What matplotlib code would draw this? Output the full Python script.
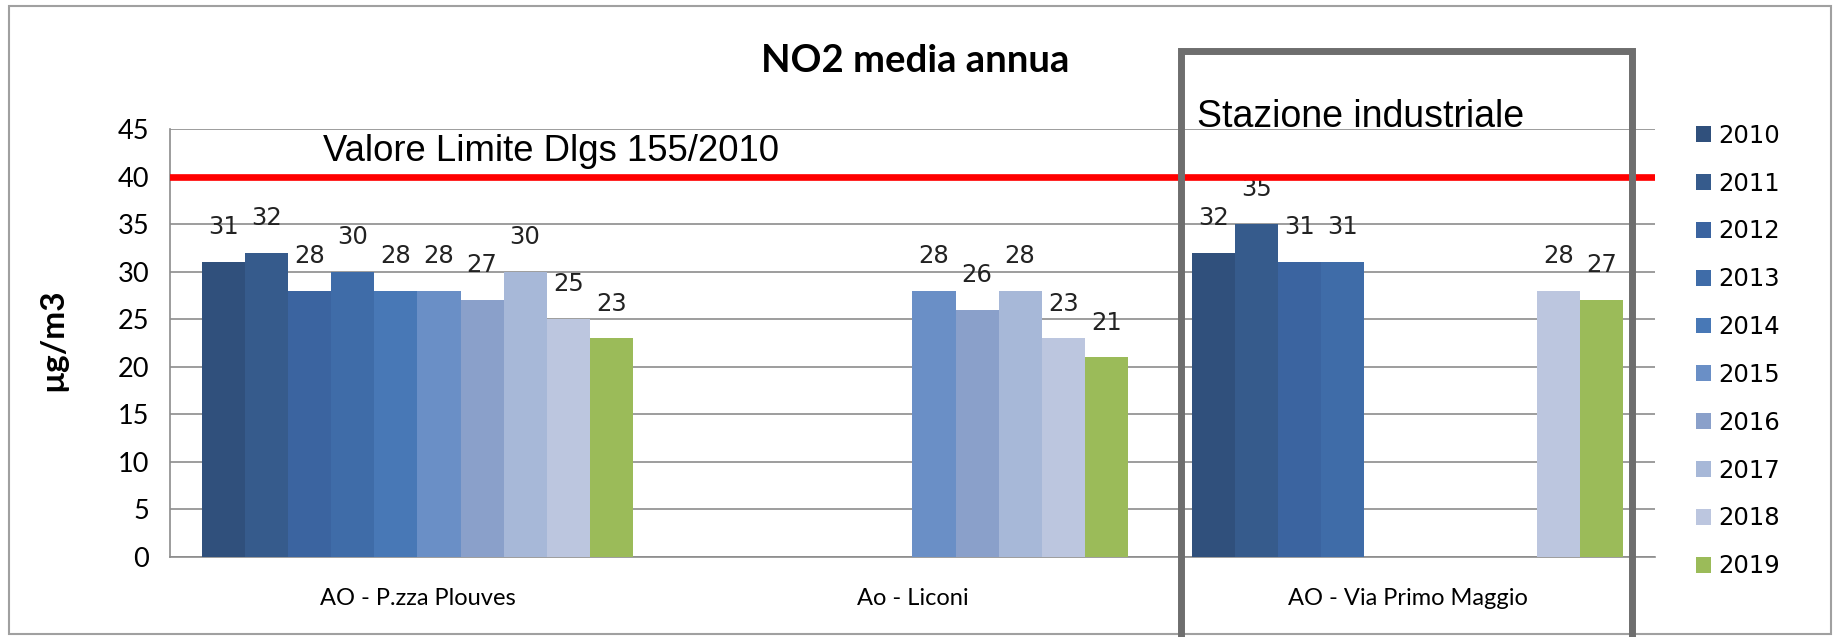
import numpy as np
import matplotlib
matplotlib.use("Agg")
import matplotlib.pyplot as plt
import matplotlib.patches as mpatches

# ── Data ──────────────────────────────────────────────────────────────────────
stations = ["AO - P.zza Plouves", "Ao - Liconi", "AO - Via Primo Maggio"]
years = ["2010", "2011", "2012", "2013", "2014", "2015", "2016", "2017", "2018", "2019"]
nan = np.nan
plouves = [31, 32, 28, 30, 28, 28, 27, 30, 25, 23]
liconi = [nan, nan, nan, nan, nan, 28, 26, 28, 23, 21]
primo_maggio = [32, 35, 31, 31, nan, nan, nan, nan, 28, 27]
limit_value = 40
y_ticks = [0, 5, 10, 15, 20, 25, 30, 35, 40, 45]

# ── Style ─────────────────────────────────────────────────────────────────────
COLORS = ["#30507c", "#365b8c", "#3b64a0", "#3f6ca8", "#4878b6",
          "#6a8fc6", "#8aa0ca", "#a7b8d8", "#bcc6df", "#9bbb59"]
GRID = "#8c8c8c"
BOX = "#6e6e6e"

W, H = 1840, 637
fig = plt.figure(figsize=(W / 100, H / 100), dpi=100, facecolor="white")
ax = fig.add_axes([170 / W, 1 - 557 / H, (1655 - 170) / W, (557 - 129) / H])

values = np.array([plouves, liconi, primo_maggio])  # stations x years
n_years = len(years)
x = np.arange(len(stations))
bw = 1 / 11.5

for i, yr in enumerate(years):
    xs = x + (i - (n_years - 1) / 2) * bw
    vals = values[:, i]
    ax.bar(xs, np.nan_to_num(vals), width=bw, color=COLORS[i], label=yr,
           linewidth=0, zorder=3)
    for xi, v in zip(xs, vals):
        if not np.isnan(v):
            ax.annotate(f"{v:.0f}", (xi, v), xytext=(0, 25),
                        textcoords="offset points", ha="center", va="center",
                        fontsize=17.5, color="#222222", zorder=4)

ax.axhline(limit_value, color="#ff0000", lw=4.8, zorder=5)

ax.set_xlim(-0.5, 2.5)
ax.set_ylim(0, 45)
ax.set_yticks(y_ticks)
ax.set_yticklabels([str(t) for t in y_ticks], fontsize=19.5, family="Lato")
ax.set_xticks(x)
ax.set_xticklabels(stations, fontsize=17, family="Lato")
ax.tick_params(axis="y", length=0, pad=15)
ax.tick_params(axis="x", length=0, pad=22)
ax.grid(axis="y", color=GRID, lw=1.2, zorder=0)
ax.set_axisbelow(True)
for s in ["top", "right"]:
    ax.spines[s].set_visible(False)
for s in ["left", "bottom"]:
    ax.spines[s].set_color(GRID)
    ax.spines[s].set_linewidth(1.2)

fig.text(53 / W, 1 - 340 / H, "µg/m3", rotation=90, ha="center", va="center",
         fontsize=24, fontweight="bold", family="Lato")
fig.text(915 / W, 1 - 61 / H, "NO2 media annua", ha="center", va="center",
         fontsize=27.5, fontweight="bold", family="Lato")
fig.text(323 / W, 1 - 161 / H, "Valore Limite Dlgs 155/2010", ha="left",
         va="baseline", fontsize=26.3, family="Liberation Sans")
fig.text(1197 / W, 1 - 127 / H, "Stazione industriale", ha="left",
         va="baseline", fontsize=27, family="Liberation Sans")

# legend
handles = [mpatches.Patch(facecolor=c, label=y) for c, y in zip(COLORS, years)]
fig.legend(handles=handles, loc="center left",
           bbox_to_anchor=(1696 / W, 1 - 351 / H), frameon=False,
           fontsize=17.5, handlelength=0.62, handleheight=0.62,
           handletextpad=0.28, labelspacing=0.98, borderpad=0, borderaxespad=0)

# outer border and industrial-station box
fig.add_artist(mpatches.Rectangle((9 / W, 3 / H), (1831 - 9) / W, (631 - 3) / H,
                                  transform=fig.transFigure, fill=False,
                                  edgecolor="#a0a0a0", lw=1.5))
fig.add_artist(mpatches.Rectangle((1181 / W, -2 / H), (1632 - 1181) / W, (588) / H,
                                  transform=fig.transFigure, fill=False,
                                  edgecolor=BOX, lw=5))

fig.savefig("out.png", dpi=100, facecolor="white")
